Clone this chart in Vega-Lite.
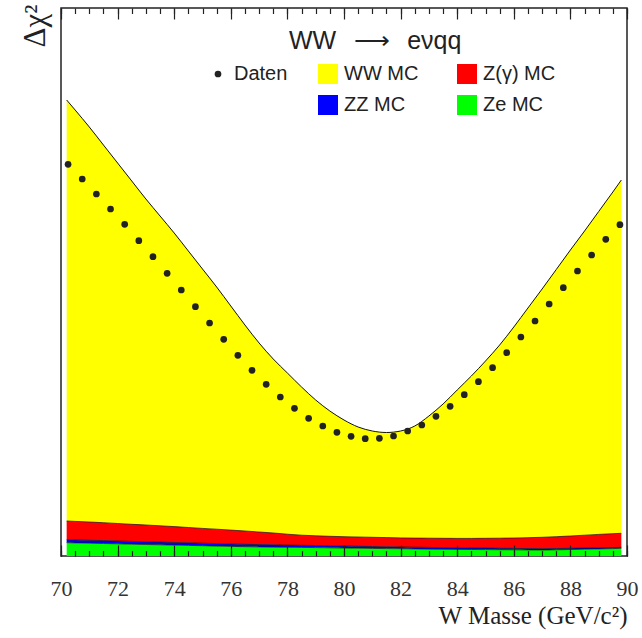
{
  "$schema": "https://vega.github.io/schema/vega-lite/v6.json",
  "width": 566,
  "height": 548,
  "autosize": {"type": "none"},
  "padding": {"left": 61, "top": 8, "right": 15, "bottom": 82},
  "background": "white",
  "title": {"text": "WW\u2002\u2009⟶\u2002\u2009eνqq", "anchor": "start", "frame": "group", "dx": 228, "offset": -70, "baseline": "alphabetic", "font": "Liberation Sans", "fontSize": 25, "fontWeight": "normal", "color": "#222"},
  "datasets": {
    "mc": [
      {"m": 70.2, "WW MC": 421, "Z(γ) MC": 18.7, "ZZ MC": 3.0, "Ze MC": 13.3},
      {"m": 70.5, "WW MC": 411.4, "Z(γ) MC": 18.5, "ZZ MC": 3.0, "Ze MC": 13.1},
      {"m": 71, "WW MC": 395, "Z(γ) MC": 18.3, "ZZ MC": 2.9, "Ze MC": 12.8},
      {"m": 71.5, "WW MC": 377.7, "Z(γ) MC": 17.9, "ZZ MC": 2.9, "Ze MC": 12.5},
      {"m": 72, "WW MC": 360.5, "Z(γ) MC": 17.5, "ZZ MC": 2.8, "Ze MC": 12.2},
      {"m": 72.5, "WW MC": 343.3, "Z(γ) MC": 17.1, "ZZ MC": 2.8, "Ze MC": 11.8},
      {"m": 73, "WW MC": 326, "Z(γ) MC": 16.8, "ZZ MC": 2.7, "Ze MC": 11.5},
      {"m": 73.5, "WW MC": 309.8, "Z(γ) MC": 16.3, "ZZ MC": 2.7, "Ze MC": 11.2},
      {"m": 74, "WW MC": 293.6, "Z(γ) MC": 15.9, "ZZ MC": 2.6, "Ze MC": 10.9},
      {"m": 74.5, "WW MC": 276.5, "Z(γ) MC": 15.3, "ZZ MC": 2.6, "Ze MC": 10.6},
      {"m": 75, "WW MC": 259.4, "Z(γ) MC": 14.8, "ZZ MC": 2.5, "Ze MC": 10.3},
      {"m": 75.5, "WW MC": 242.2, "Z(γ) MC": 14.4, "ZZ MC": 2.5, "Ze MC": 9.9},
      {"m": 76, "WW MC": 224.1, "Z(γ) MC": 13.9, "ZZ MC": 2.4, "Ze MC": 9.6},
      {"m": 76.5, "WW MC": 206, "Z(γ) MC": 13.3, "ZZ MC": 2.4, "Ze MC": 9.3},
      {"m": 77, "WW MC": 189, "Z(γ) MC": 12.6, "ZZ MC": 2.3, "Ze MC": 9.1},
      {"m": 77.5, "WW MC": 174, "Z(γ) MC": 11.8, "ZZ MC": 2.3, "Ze MC": 8.9},
      {"m": 78, "WW MC": 161.2, "Z(γ) MC": 10.9, "ZZ MC": 2.2, "Ze MC": 8.7},
      {"m": 78.5, "WW MC": 148.2, "Z(γ) MC": 10.1, "ZZ MC": 2.1, "Ze MC": 8.6},
      {"m": 79, "WW MC": 135.8, "Z(γ) MC": 9.7, "ZZ MC": 2.1, "Ze MC": 8.4},
      {"m": 79.5, "WW MC": 125.3, "Z(γ) MC": 9.5, "ZZ MC": 2.0, "Ze MC": 8.2},
      {"m": 80, "WW MC": 116.7, "Z(γ) MC": 9.3, "ZZ MC": 2.0, "Ze MC": 8.0},
      {"m": 80.5, "WW MC": 110, "Z(γ) MC": 9.3, "ZZ MC": 1.9, "Ze MC": 7.8},
      {"m": 81, "WW MC": 106.3, "Z(γ) MC": 9.2, "ZZ MC": 1.9, "Ze MC": 7.6},
      {"m": 81.5, "WW MC": 105.1, "Z(γ) MC": 9.2, "ZZ MC": 1.8, "Ze MC": 7.4},
      {"m": 82, "WW MC": 106.9, "Z(γ) MC": 9.0, "ZZ MC": 1.8, "Ze MC": 7.3},
      {"m": 82.5, "WW MC": 112.1, "Z(γ) MC": 9.1, "ZZ MC": 1.7, "Ze MC": 7.1},
      {"m": 83, "WW MC": 122.2, "Z(γ) MC": 9.2, "ZZ MC": 1.7, "Ze MC": 6.9},
      {"m": 83.5, "WW MC": 134.3, "Z(γ) MC": 9.4, "ZZ MC": 1.6, "Ze MC": 6.7},
      {"m": 84, "WW MC": 148.4, "Z(γ) MC": 9.4, "ZZ MC": 1.6, "Ze MC": 6.6},
      {"m": 84.5, "WW MC": 162.4, "Z(γ) MC": 9.6, "ZZ MC": 1.5, "Ze MC": 6.5},
      {"m": 85, "WW MC": 177.3, "Z(γ) MC": 9.8, "ZZ MC": 1.5, "Ze MC": 6.4},
      {"m": 85.5, "WW MC": 193.2, "Z(γ) MC": 10.1, "ZZ MC": 1.4, "Ze MC": 6.3},
      {"m": 86, "WW MC": 211, "Z(γ) MC": 10.4, "ZZ MC": 1.4, "Ze MC": 6.2},
      {"m": 86.5, "WW MC": 229.7, "Z(γ) MC": 10.9, "ZZ MC": 1.3, "Ze MC": 6.1},
      {"m": 87, "WW MC": 248.3, "Z(γ) MC": 11.4, "ZZ MC": 1.3, "Ze MC": 6.0},
      {"m": 87.5, "WW MC": 267.2, "Z(γ) MC": 11.9, "ZZ MC": 1.2, "Ze MC": 6.2},
      {"m": 88, "WW MC": 286, "Z(γ) MC": 12.3, "ZZ MC": 1.2, "Ze MC": 6.5},
      {"m": 88.5, "WW MC": 304.2, "Z(γ) MC": 12.9, "ZZ MC": 1.1, "Ze MC": 6.8},
      {"m": 89, "WW MC": 322.9, "Z(γ) MC": 13.4, "ZZ MC": 1.1, "Ze MC": 7.1},
      {"m": 89.5, "WW MC": 341.7, "Z(γ) MC": 13.9, "ZZ MC": 1.0, "Ze MC": 7.4},
      {"m": 89.8, "WW MC": 353.3, "Z(γ) MC": 14.0, "ZZ MC": 1.0, "Ze MC": 7.7}
    ],
    "dat": [
      {"m": 70.25, "d": 391.7}, {"m": 70.75, "d": 377}, {"m": 71.25, "d": 362}, {"m": 71.75, "d": 347},
      {"m": 72.25, "d": 331.7}, {"m": 72.75, "d": 315.3}, {"m": 73.25, "d": 299.3}, {"m": 73.75, "d": 282.7},
      {"m": 74.25, "d": 266}, {"m": 74.75, "d": 249.3}, {"m": 75.25, "d": 233}, {"m": 75.75, "d": 216.7},
      {"m": 76.25, "d": 200.7}, {"m": 76.75, "d": 185.7}, {"m": 77.25, "d": 171.7}, {"m": 77.75, "d": 159},
      {"m": 78.25, "d": 147.7}, {"m": 78.75, "d": 137.7}, {"m": 79.25, "d": 130}, {"m": 79.75, "d": 123.7},
      {"m": 80.25, "d": 119.7}, {"m": 80.75, "d": 117.3}, {"m": 81.25, "d": 117.7}, {"m": 81.75, "d": 120},
      {"m": 82.25, "d": 125}, {"m": 82.75, "d": 131}, {"m": 83.25, "d": 139.7}, {"m": 83.75, "d": 149.7},
      {"m": 84.25, "d": 161.3}, {"m": 84.75, "d": 174.3}, {"m": 85.25, "d": 188.3}, {"m": 85.75, "d": 203.3},
      {"m": 86.25, "d": 219}, {"m": 86.75, "d": 235}, {"m": 87.25, "d": 252}, {"m": 87.75, "d": 268.3},
      {"m": 88.25, "d": 285}, {"m": 88.75, "d": 301}, {"m": 89.25, "d": 316.7}, {"m": 89.75, "d": 331.3}
    ]
  },
  "layer": [
    {
      "data": {"name": "mc"},
      "transform": [
        {"fold": ["WW MC", "Z(γ) MC", "ZZ MC", "Ze MC"], "as": ["key", "v"]},
        {"stack": "v", "groupby": ["m"], "sort": [{"field": "key", "order": "descending"}], "as": ["v0", "v1"]}
      ],
      "mark": {"type": "area", "interpolate": "monotone", "opacity": 1},
      "encoding": {
        "x": {
          "field": "m", "type": "quantitative",
          "scale": {"domain": [70, 90], "nice": false, "zero": false},
          "axis": {
            "orient": "bottom", "zindex": 2, "format": "d", "offset": -11,
            "values": [70, 72, 74, 76, 78, 80, 82, 84, 86, 88, 90],
            "ticks": true, "tickSize": 11, "tickColor": "#222", "tickWidth": 1.2,
            "domain": false, "grid": false,
            "labelFlush": false, "labelOverlap": false, "labelBound": false,
            "labelPadding": 39, "labelBaseline": "alphabetic",
            "labelFont": "Liberation Serif", "labelFontSize": 22, "labelColor": "#333",
            "title": "W Masse (GeV/c²)", "titleFont": "Liberation Serif", "titleFontSize": 25, "titleFontWeight": "normal", "titleColor": "#222",
            "titleAnchor": "end", "titleAlign": "right", "titleBaseline": "alphabetic", "titleX": 566, "titleY": 78
          }
        },
        "y": {
          "field": "v1", "type": "quantitative",
          "scale": {"domain": [0, 548], "nice": false, "zero": true},
          "axis": {
            "orient": "left", "ticks": false, "labels": false, "domain": false, "grid": false,
            "title": "Δχ²", "titleFont": "Liberation Serif", "titleFontSize": 31, "titleFontWeight": "normal", "titleColor": "#222",
            "titleAngle": 270, "titleAlign": "right", "titleBaseline": "middle", "titleX": -26, "titleY": -4
          }
        },
        "y2": {"field": "v0"},
        "color": {
          "field": "key", "type": "nominal",
          "scale": {"domain": ["WW MC", "ZZ MC", "Z(γ) MC", "Ze MC"], "range": ["#ffff00", "#0000ff", "#ff0000", "#00ff00"]},
          "legend": {
            "values": ["WW MC", "ZZ MC", "Z(γ) MC", "Ze MC"],
            "orient": "none", "legendX": 257, "legendY": 56, "columns": 2, "title": null,
            "symbolType": "square", "symbolSize": 400, "symbolStrokeWidth": 0, "symbolOpacity": 1,
            "labelFont": "Liberation Sans", "labelFontSize": 20, "labelColor": "#222", "labelOffset": 6,
            "columnPadding": 38, "rowPadding": 11, "padding": 0
          }
        }
      }
    },
    {
      "data": {"name": "mc"},
      "transform": [
        {"fold": ["WW MC", "Z(γ) MC", "ZZ MC", "Ze MC"], "as": ["key", "v"]},
        {"stack": "v", "groupby": ["m"], "sort": [{"field": "key", "order": "descending"}], "as": ["v0", "v1"]},
        {"filter": "datum.key === 'WW MC'"}
      ],
      "mark": {"type": "line", "interpolate": "monotone", "color": "#111", "strokeWidth": 1},
      "encoding": {
        "x": {
          "field": "m", "type": "quantitative",
          "scale": {"domain": [70, 90], "nice": false, "zero": false},
          "axis": {
            "orient": "bottom", "zindex": 2, "offset": -548,
            "values": [70, 72, 74, 76, 78, 80, 82, 84, 86, 88, 90],
            "ticks": true, "tickSize": 11, "tickColor": "#222", "tickWidth": 1.2,
            "labels": false, "domain": false, "title": null, "grid": false
          }
        },
        "y": {"field": "v1", "type": "quantitative", "title": "Δχ²", "scale": {"domain": [0, 548], "nice": false, "zero": true}},
        "detail": {"field": "key"}
      }
    },
    {
      "data": {"name": "mc"},
      "transform": [
        {"fold": ["WW MC", "Z(γ) MC", "ZZ MC", "Ze MC"], "as": ["key", "v"]},
        {"stack": "v", "groupby": ["m"], "sort": [{"field": "key", "order": "descending"}], "as": ["v0", "v1"]},
        {"filter": "datum.key !== 'WW MC'"}
      ],
      "mark": {"type": "line", "interpolate": "monotone", "color": "#111", "strokeWidth": 0.7},
      "encoding": {
        "x": {
          "field": "m", "type": "quantitative",
          "scale": {"domain": [70, 90], "nice": false, "zero": false},
          "axis": {
            "orient": "bottom", "zindex": 2, "offset": -5.5,
            "values": [70, 70.5, 71, 71.5, 72, 72.5, 73, 73.5, 74, 74.5, 75, 75.5, 76, 76.5, 77, 77.5, 78, 78.5, 79, 79.5, 80, 80.5, 81, 81.5, 82, 82.5, 83, 83.5, 84, 84.5, 85, 85.5, 86, 86.5, 87, 87.5, 88, 88.5, 89, 89.5, 90],
            "ticks": true, "tickSize": 5.5, "tickColor": "#222", "tickWidth": 1.2,
            "labels": false, "domain": false, "title": null, "grid": false
          }
        },
        "y": {"field": "v1", "type": "quantitative", "title": "Δχ²", "scale": {"domain": [0, 548], "nice": false, "zero": true}},
        "detail": {"field": "key"}
      }
    },
    {
      "data": {"name": "dat"},
      "mark": {"type": "point", "filled": true, "size": 45, "color": "#222", "opacity": 1},
      "encoding": {
        "x": {
          "field": "m", "type": "quantitative",
          "scale": {"domain": [70, 90], "nice": false, "zero": false},
          "axis": {
            "orient": "bottom", "zindex": 2, "offset": -548,
            "values": [70, 70.5, 71, 71.5, 72, 72.5, 73, 73.5, 74, 74.5, 75, 75.5, 76, 76.5, 77, 77.5, 78, 78.5, 79, 79.5, 80, 80.5, 81, 81.5, 82, 82.5, 83, 83.5, 84, 84.5, 85, 85.5, 86, 86.5, 87, 87.5, 88, 88.5, 89, 89.5, 90],
            "ticks": true, "tickSize": 5.5, "tickColor": "#222", "tickWidth": 1.2,
            "labels": false, "domain": false, "title": null, "grid": false
          }
        },
        "y": {"field": "d", "type": "quantitative", "title": "Δχ²", "scale": {"domain": [0, 548], "nice": false, "zero": true}},
        "shape": {
          "datum": "Daten",
          "scale": {"range": ["circle"]},
          "legend": {
            "orient": "none", "legendX": 147, "legendY": 56, "title": null,
            "symbolFillColor": "#222", "symbolStrokeColor": "#222", "symbolSize": 45, "symbolStrokeWidth": 0,
            "labelFont": "Liberation Sans", "labelFontSize": 20, "labelColor": "#222", "labelOffset": 6, "padding": 0
          }
        }
      }
    }
  ],
  "resolve": {"axis": {"x": "independent"}},
  "config": {
    "view": {"stroke": "#222", "strokeWidth": 1.5},
    "legend": {"padding": 0}
  }
}
